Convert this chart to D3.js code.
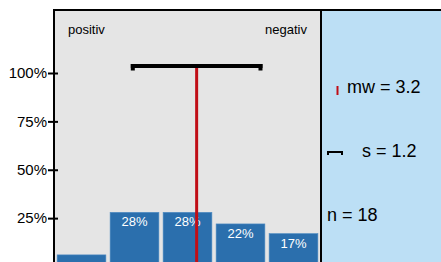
<!DOCTYPE html>
<html>
<head>
<meta charset="utf-8">
<script src="https://cdn.jsdelivr.net/npm/d3@7"></script>
<style>
  body { margin: 0; background: #fff; }
  svg { display: block; font-family: "Liberation Sans", Arial, sans-serif; }
</style>
</head>
<body>
<script>
// answer scale 1 (positiv) .. 5 (negativ), share of answers
var categories = [1, 2, 3, 4, 5];
var shares = [0.06, 0.28, 0.28, 0.22, 0.17];
var yTicks = [0.25, 0.5, 0.75, 1];
var meanValue = 3.2;
var sdValue = 1.2;
var nValue = 18;

var width = 441, height = 262;
var plotLeft = 54, plotRight = 321, plotTop = 10;

var data = categories.map(function (c, i) {
    return {cat: c, share: shares[i]};
});

var svg = d3.select("body").append("svg")
    .attr("width", width)
    .attr("height", height);

// backgrounds
svg.append("rect")
    .attr("x", plotLeft).attr("y", plotTop)
    .attr("width", plotRight - plotLeft).attr("height", height - plotTop + 10)
    .attr("fill", "#e5e5e5");
svg.append("rect")
    .attr("x", plotRight).attr("y", plotTop)
    .attr("width", width - plotRight).attr("height", height - plotTop + 10)
    .attr("fill", "#bcdff5");

var x = d3.scaleBand()
    .domain(categories)
    .range([55, 320])
    .paddingInner(0.08)
    .paddingOuter(0.04);

// continuous scale for mean / sd
var xs = d3.scaleLinear().domain([0.5, 5.5]).range([53, 319]);

var y = d3.scaleLinear().domain([0, 1]).range([266.5, 73]);

var fmt = d3.format(".0%");

svg.append("g").selectAll("rect")
    .data(data)
    .enter().append("rect")
    .attr("x", function (d) { return x(d.cat); })
    .attr("y", function (d) { return y(d.share); })
    .attr("width", x.bandwidth())
    .attr("height", function (d) { return y(0) - y(d.share); })
    .attr("fill", "#2b6fad")
    .attr("stroke", "#4f8cc4")
    .attr("stroke-width", 0.6);

svg.append("g").selectAll("text")
    .data(data.filter(function (d) { return d.share >= 0.1; }))
    .enter().append("text")
    .attr("x", function (d) { return x(d.cat) + x.bandwidth() / 2; })
    .attr("y", function (d) { return y(d.share) + 14; })
    .attr("text-anchor", "middle")
    .attr("fill", "#fff")
    .attr("font-size", "13px")
    .text(function (d) { return fmt(d.share); });

// mean line
svg.append("line")
    .attr("x1", xs(meanValue)).attr("x2", xs(meanValue))
    .attr("y1", 66).attr("y2", height + 5)
    .attr("stroke", "#c00d16")
    .attr("stroke-width", 3);

// sd bar
var sdLeft = xs(meanValue - sdValue), sdRight = xs(meanValue + sdValue);
svg.append("line")
    .attr("x1", sdLeft).attr("x2", sdRight)
    .attr("y1", 66).attr("y2", 66)
    .attr("stroke", "#000")
    .attr("stroke-width", 4)
    .attr("stroke-linecap", "square");
[sdLeft - 2, sdRight - 2].forEach(function (cx) {
    svg.append("rect")
        .attr("x", cx).attr("y", 64)
        .attr("width", 4).attr("height", 6.5)
        .attr("fill", "#000");
});

// y axis
var yAxis = d3.axisLeft(y)
    .tickValues(yTicks)
    .tickSize(10)
    .tickPadding(1)
    .tickFormat(fmt);
var ga = svg.append("g")
    .attr("transform", "translate(58,0)")
    .call(yAxis);
ga.select(".domain").remove();
ga.selectAll("line").attr("stroke", "#000").attr("stroke-width", 2);
ga.selectAll("text")
    .attr("font-size", "15px")
    .attr("fill", "#000")
    .attr("font-family", "Liberation Sans, Arial, sans-serif");

// borders
svg.append("line")
    .attr("x1", plotLeft - 1).attr("x2", width)
    .attr("y1", plotTop).attr("y2", plotTop)
    .attr("stroke", "#000").attr("stroke-width", 2);
svg.append("line")
    .attr("x1", plotLeft).attr("x2", plotLeft)
    .attr("y1", plotTop).attr("y2", height)
    .attr("stroke", "#000").attr("stroke-width", 2);
svg.append("line")
    .attr("x1", plotRight).attr("x2", plotRight)
    .attr("y1", plotTop).attr("y2", height)
    .attr("stroke", "#000").attr("stroke-width", 2);

// scale end labels
svg.append("text")
    .attr("x", 68).attr("y", 34)
    .attr("font-size", "13px")
    .text("positiv");
svg.append("text")
    .attr("x", 307).attr("y", 34)
    .attr("text-anchor", "end")
    .attr("font-size", "13px")
    .text("negativ");

// legend panel
svg.append("line")
    .attr("x1", 337.5).attr("x2", 337.5)
    .attr("y1", 86).attr("y2", 95)
    .attr("stroke", "#c00d16").attr("stroke-width", 2);
svg.append("text")
    .attr("x", 347).attr("y", 93)
    .attr("font-size", "18px")
    .text("mw = " + meanValue);

svg.append("path")
    .attr("d", "M328,155V152H342V155")
    .attr("fill", "none")
    .attr("stroke", "#000").attr("stroke-width", 2);
svg.append("text")
    .attr("x", 362).attr("y", 157)
    .attr("font-size", "18px")
    .text("s = " + sdValue);

svg.append("text")
    .attr("x", 327).attr("y", 221)
    .attr("font-size", "18px")
    .text("n = " + nValue);
</script>
</body>
</html>
